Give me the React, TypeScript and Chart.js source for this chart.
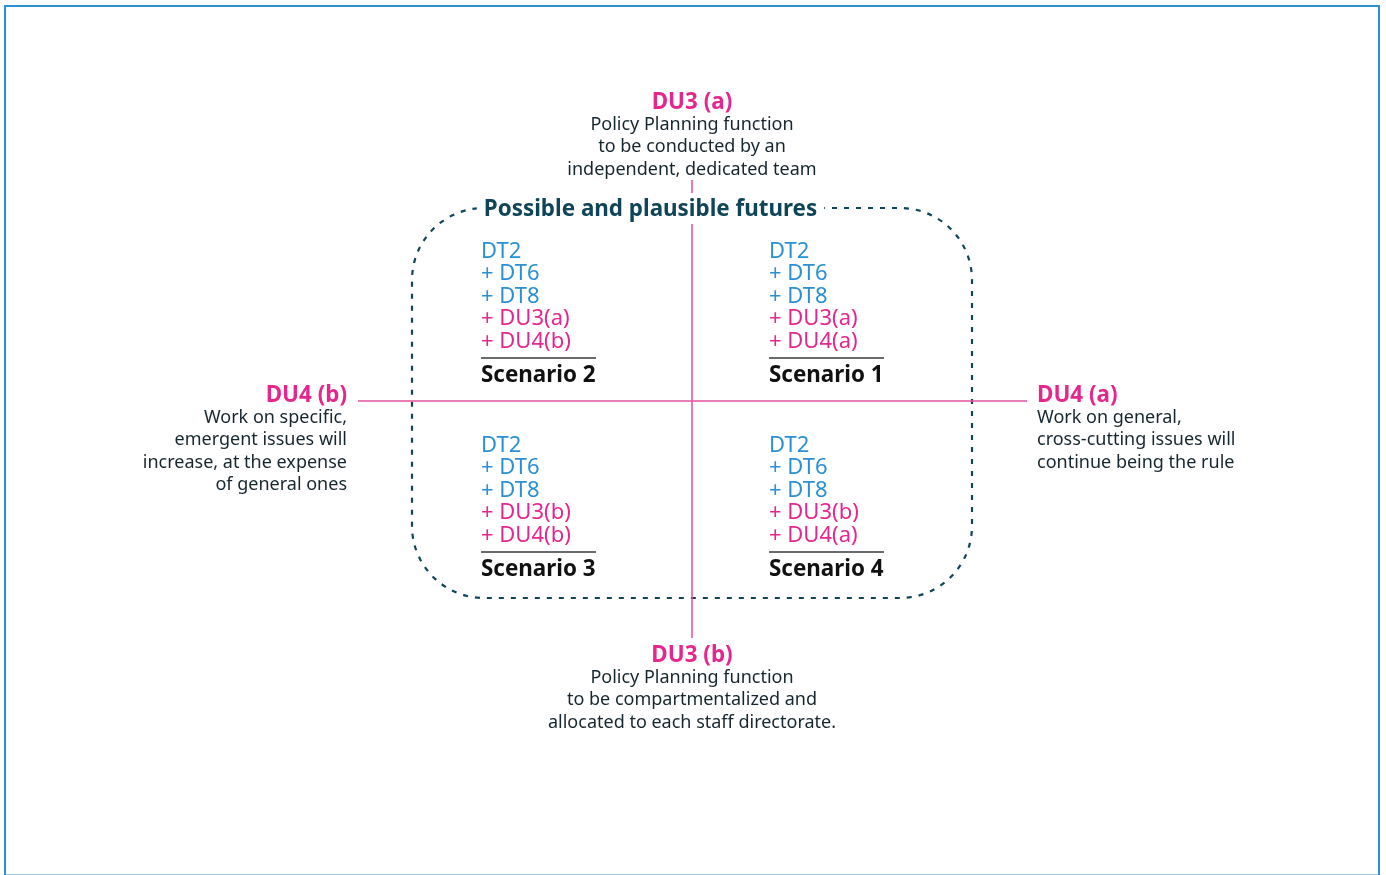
import { useEffect, useRef } from "react";
import { Chart, registerables } from "chart.js";
Chart.register(...registerables);

// ---- content ----
const scenarioNames = ["Scenario 1", "Scenario 2", "Scenario 3", "Scenario 4"];
const commonTrends = ["DT2", "DT6", "DT8"];
const du3Options = ["DU3(a)", "DU3(a)", "DU3(b)", "DU3(b)"];
const du4Options = ["DU4(a)", "DU4(b)", "DU4(b)", "DU4(a)"];
const frameTitle = "Possible and plausible futures";
const du3aHead = "DU3 (a)";
const du3aText = ["Policy Planning function", "to be conducted by an", "independent, dedicated team"];
const du3bHead = "DU3 (b)";
const du3bText = ["Policy Planning function", "to be compartmentalized and", "allocated to each staff directorate."];
const du4aHead = "DU4 (a)";
const du4aText = ["Work on general,", "cross-cutting issues will", "continue being the rule"];
const du4bHead = "DU4 (b)";
const du4bText = ["Work on specific,", "emergent issues will", "increase, at the expense", "of general ones"];

// ---- layout (diagram units) ----
const W = 1386;
const H = 875;
const CX = 692;
const CY = 401;
const hAxis = [358, 1027];
const vAxis = [180, 638];

const PINK = "#e5278d";
const BLUE = "#2a90d4";
const DARK = "#16262e";
const TEAL = "#0f4459";
const FONT = "'Noto Sans', 'Open Sans', sans-serif";

const diagramPlugin = {
  id: "diagram",
  beforeDatasetsDraw(chart: any) {
    const { ctx } = chart;
    const sx = chart.scales.x;
    const sy = chart.scales.y;
    const px = (v: number) => sx.getPixelForValue(v);
    const py = (v: number) => sy.getPixelForValue(v);
    ctx.save();
    // outer frame
    ctx.strokeStyle = "#2b8fdc";
    ctx.lineWidth = 2;
    ctx.strokeRect(px(5), py(6), px(1379) - px(5), py(875.5) - py(6));
    // dashed rounded frame
    ctx.strokeStyle = TEAL;
    ctx.lineWidth = 2.2;
    ctx.setLineDash([5, 7]);
    ctx.beginPath();
    ctx.roundRect(px(412), py(208), px(972) - px(412), py(598) - py(208), 72);
    ctx.stroke();
    ctx.setLineDash([]);
    ctx.restore();
  },
  afterDatasetsDraw(chart: any) {
    const { ctx } = chart;
    const sx = chart.scales.x;
    const sy = chart.scales.y;
    const px = (v: number) => sx.getPixelForValue(v);
    const py = (v: number) => sy.getPixelForValue(v);
    ctx.save();
    ctx.textBaseline = "middle";

    // title over frame
    ctx.font = `bold 22.4px ${FONT}`;
    const tw = ctx.measureText(frameTitle).width;
    const tcx = px(650.5);
    ctx.fillStyle = "#ffffff";
    ctx.fillRect(tcx - tw / 2 - 7, py(193), tw + 14, py(224) - py(193));
    ctx.fillStyle = TEAL;
    ctx.textAlign = "center";
    ctx.fillText(frameTitle, tcx, py(210));

    // quadrants
    const quad = [
      { x: 769, y: 251.5 },
      { x: 481, y: 251.5 },
      { x: 481, y: 445.5 },
      { x: 769, y: 445.5 },
    ];
    const step = 22.5;
    scenarioNames.forEach((name, i) => {
      const q = quad[i];
      ctx.textAlign = "left";
      ctx.font = `22px ${FONT}`;
      const rows = [
        { t: commonTrends[0], c: BLUE },
        { t: "+ " + commonTrends[1], c: BLUE },
        { t: "+ " + commonTrends[2], c: BLUE },
        { t: "+ " + du3Options[i], c: PINK },
        { t: "+ " + du4Options[i], c: PINK },
      ];
      rows.forEach((r, k) => {
        ctx.fillStyle = r.c;
        ctx.fillText(r.t, px(q.x), py(q.y + k * step));
      });
      ctx.strokeStyle = "#3a3a3a";
      ctx.lineWidth = 1.6;
      ctx.beginPath();
      ctx.moveTo(px(q.x), py(q.y + 106.5));
      ctx.lineTo(px(q.x + 115), py(q.y + 106.5));
      ctx.stroke();
      ctx.font = `bold 22.4px ${FONT}`;
      ctx.fillStyle = "#111111";
      ctx.fillText(name, px(q.x), py(q.y + 124.5));
    });

    const block = (head: string, lines: string[], x: number, y: number, align: string, lh: number) => {
      ctx.textAlign = align;
      ctx.font = `bold 22.4px ${FONT}`;
      ctx.fillStyle = PINK;
      ctx.fillText(head, px(x), py(y + 1.5));
      ctx.font = `18px ${FONT}`;
      ctx.fillStyle = DARK;
      lines.forEach((l, k) => ctx.fillText(l, px(x), py(y + 23.5 + k * lh)));
    };
    block(du3aHead, du3aText, CX, 101, "center", 22.5);
    block(du3bHead, du3bText, CX, 654, "center", 22.5);
    block(du4aHead, du4aText, 1037, 394, "left", 22.5);
    block(du4bHead, du4bText, 347, 394, "right", 22.5);
    ctx.restore();
  },
};

export default function App() {
  const ref = useRef<HTMLCanvasElement | null>(null);
  useEffect(() => {
    if (!ref.current) return;
    const chart = new Chart(ref.current, {
      type: "scatter",
      data: {
        datasets: [
          {
            data: [{ x: hAxis[0], y: CY }, { x: hAxis[1], y: CY }],
            showLine: true,
            borderColor: "#e3509f",
            borderWidth: 1.5,
            pointRadius: 0,
          },
          {
            data: [{ x: CX, y: vAxis[0] }, { x: CX, y: vAxis[1] }],
            showLine: true,
            borderColor: "#e3509f",
            borderWidth: 1.5,
            pointRadius: 0,
          },
        ],
      },
      options: {
        animation: false,
        responsive: false,
        maintainAspectRatio: false,
        layout: { padding: 0 },
        plugins: { legend: { display: false }, tooltip: { enabled: false }, title: { display: false } },
        events: [],
        scales: {
          x: { type: "linear", min: 0, max: W, display: false },
          y: { type: "linear", min: 0, max: H, reverse: true, display: false },
        },
      },
      plugins: [diagramPlugin],
    } as any);
    return () => chart.destroy();
  }, []);
  return (
    <div style={{ position: "fixed", left: 0, top: 0, width: W, height: H, background: "#fff" }}>
      <canvas ref={ref} width={W} height={H} style={{ display: "block", width: W, height: H }} />
    </div>
  );
}
